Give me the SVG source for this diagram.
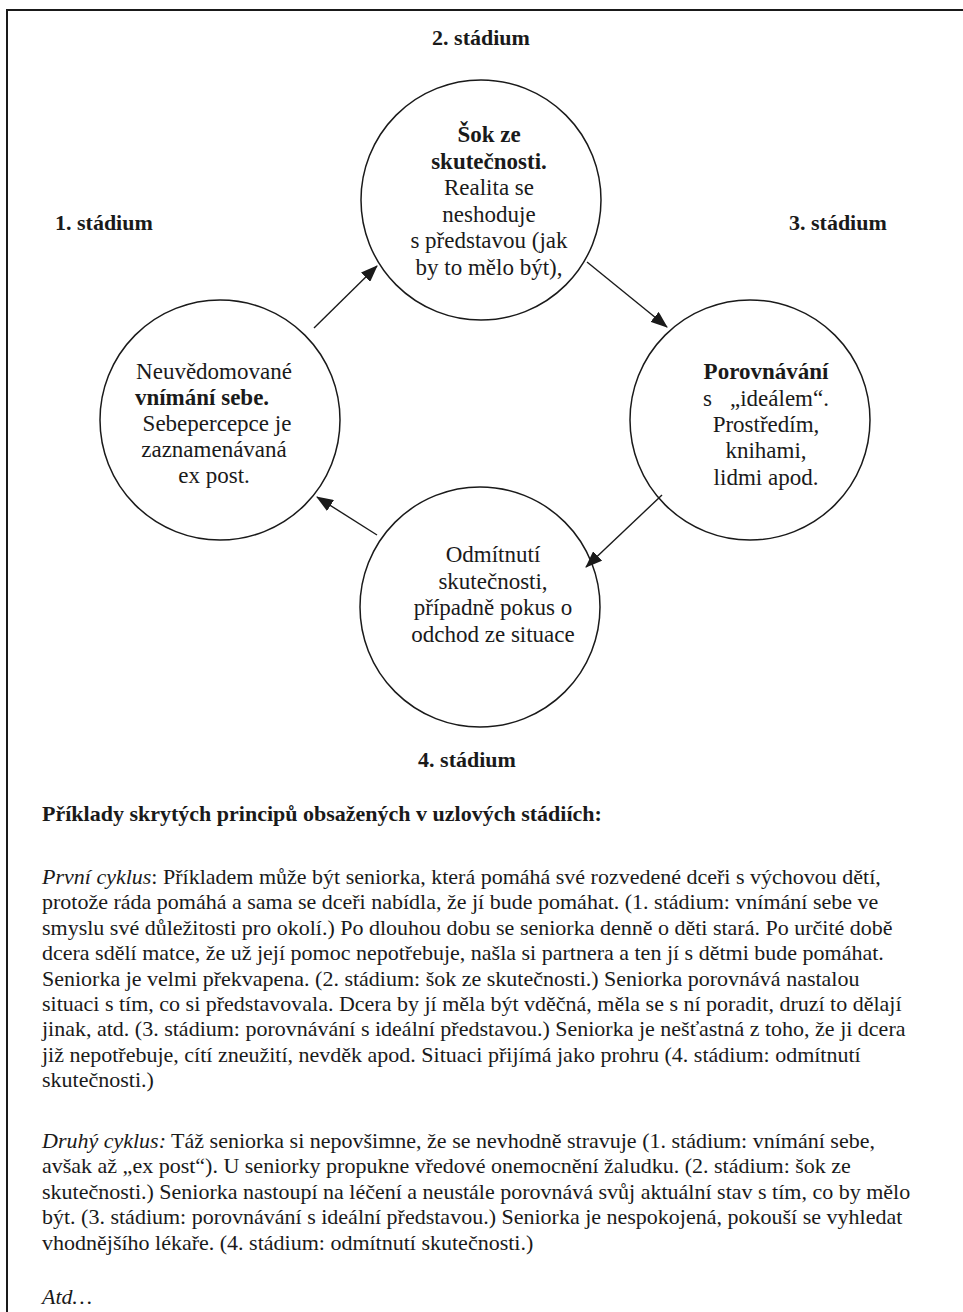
<svg xmlns="http://www.w3.org/2000/svg" width="963" height="1312" viewBox="0 0 963 1312">
<defs>
<style>
.t{font-family:"Liberation Serif","Times New Roman",serif;fill:#1a1a1a}
.c{font-size:23px;text-anchor:middle}
.b{font-weight:bold}
.lbl{font-size:22px;font-weight:bold}
.body{font-size:22px}
.node{fill:#fff;stroke:#1a1a1a;stroke-width:1.5}
.edge{stroke:#1a1a1a;stroke-width:1.4;fill:none;marker-end:url(#ah)}
</style>
<marker id="ah" markerWidth="17" markerHeight="13" refX="16" refY="6.5" orient="auto" markerUnits="userSpaceOnUse">
<path d="M0,0 L17,6.5 L0,13 Z" fill="#1a1a1a"/>
</marker>
</defs>
<rect x="0" y="0" width="963" height="1312" fill="#fff"/>
<rect x="7" y="10" width="980" height="1330" fill="none" stroke="#1a1a1a" stroke-width="2"/>

<g id="labels">
<text class="t lbl" x="481" y="45" text-anchor="middle">2. stádium</text>
<text class="t lbl" x="55" y="230">1. stádium</text>
<text class="t lbl" x="789" y="230">3. stádium</text>
<text class="t lbl" x="467" y="767" text-anchor="middle">4. stádium</text>
</g>

<g id="node-2">
<circle class="node" cx="481" cy="200" r="120"/>
<text class="t c b" x="489" y="142">Šok ze</text>
<text class="t c b" x="489" y="168.6">skutečnosti.</text>
<text class="t c" x="489" y="195.2">Realita se</text>
<text class="t c" x="489" y="221.8">neshoduje</text>
<text class="t c" x="489" y="248.4">s představou (jak</text>
<text class="t c" x="489" y="275">by to mělo být),</text>
</g>

<g id="node-1">
<circle class="node" cx="220" cy="420" r="120"/>
<text class="t c" x="214" y="379">Neuvědomované</text>
<text class="t c b" x="202" y="405">vnímání sebe.</text>
<text class="t c" x="217" y="431">Sebepercepce je</text>
<text class="t c" x="214" y="457">zaznamenávaná</text>
<text class="t c" x="214" y="483">ex post.</text>
</g>

<g id="node-3">
<circle class="node" cx="750" cy="420" r="120"/>
<text class="t c b" x="766" y="379">Porovnávání</text>
<text class="t" style="font-size:23px" x="703" y="406">s</text>
<text class="t" style="font-size:23px" x="730" y="406">„ideálem“.</text>
<text class="t c" x="766" y="432">Prostředím,</text>
<text class="t c" x="766" y="458">knihami,</text>
<text class="t c" x="766" y="485">lidmi apod.</text>
</g>

<g id="node-4">
<circle class="node" cx="480" cy="607" r="120"/>
<text class="t c" x="493" y="562">Odmítnutí</text>
<text class="t c" x="493" y="589">skutečnosti,</text>
<text class="t c" x="493" y="615">případně pokus o</text>
<text class="t c" x="493" y="642">odchod ze situace</text>
</g>

<g id="connectors">
<line class="edge" x1="314" y1="328" x2="377" y2="266"/>
<line class="edge" x1="587" y1="262" x2="667" y2="327"/>
<line class="edge" x1="662" y1="495" x2="586" y2="567"/>
<line class="edge" x1="377" y1="535" x2="317" y2="497"/>
</g>

<g id="text">
<text class="t b" style="font-size:22px" x="42" y="821">Příklady skrytých principů obsažených v uzlových stádiích:</text>
<text class="t body" x="42" y="884"><tspan font-style="italic">První cyklus</tspan>: Příkladem může být seniorka, která pomáhá své rozvedené dceři s výchovou dětí,</text>
<text class="t body" x="42" y="909.4">protože ráda pomáhá a sama se dceři nabídla, že jí bude pomáhat. (1. stádium: vnímání sebe ve</text>
<text class="t body" x="42" y="934.8">smyslu své důležitosti pro okolí.) Po dlouhou dobu se seniorka denně o děti stará. Po určité době</text>
<text class="t body" x="42" y="960.2">dcera sdělí matce, že už její pomoc nepotřebuje, našla si partnera a ten jí s dětmi bude pomáhat.</text>
<text class="t body" x="42" y="985.6">Seniorka je velmi překvapena. (2. stádium: šok ze skutečnosti.) Seniorka porovnává nastalou</text>
<text class="t body" x="42" y="1011">situaci s tím, co si představovala. Dcera by jí měla být vděčná, měla se s ní poradit, druzí to dělají</text>
<text class="t body" x="42" y="1036.4">jinak, atd. (3. stádium: porovnávání s ideální představou.) Seniorka je nešťastná z toho, že ji dcera</text>
<text class="t body" x="42" y="1061.8">již nepotřebuje, cítí zneužití, nevděk apod. Situaci přijímá jako prohru (4. stádium: odmítnutí</text>
<text class="t body" x="42" y="1087.2">skutečnosti.)</text>
<text class="t body" x="42" y="1148"><tspan font-style="italic">Druhý cyklus:</tspan> Táž seniorka si nepovšimne, že se nevhodně stravuje (1. stádium: vnímání sebe,</text>
<text class="t body" x="42" y="1173.4">avšak až „ex post“). U seniorky propukne vředové onemocnění žaludku. (2. stádium: šok ze</text>
<text class="t body" x="42" y="1198.8">skutečnosti.) Seniorka nastoupí na léčení a neustále porovnává svůj aktuální stav s tím, co by mělo</text>
<text class="t body" x="42" y="1224.2">být. (3. stádium: porovnávání s ideální představou.) Seniorka je nespokojená, pokouší se vyhledat</text>
<text class="t body" x="42" y="1249.6">vhodnějšího lékaře. (4. stádium: odmítnutí skutečnosti.)</text>
<text class="t body" x="42" y="1304" font-style="italic">Atd…</text>
</g>
</svg>
